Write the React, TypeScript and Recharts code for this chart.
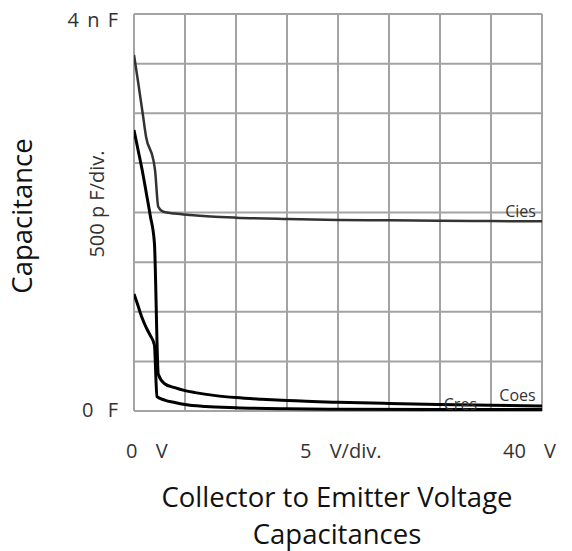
import { LineChart, Line, XAxis, YAxis, CartesianGrid, ReferenceDot } from 'recharts'

// values (V, pF)
const ciesV = [0, 0.42, 0.85, 1.18, 1.9, 2.06, 2.38, 2.87, 4, 5.5, 7.5, 10, 15, 20, 25, 30, 35, 40]
const ciesC = [3587, 3302, 3000, 2764, 2529, 2428, 2058, 2008, 1990, 1975, 1960, 1948, 1934, 1924, 1921, 1917, 1914, 1911]

const coesV = [0, 0.4, 0.8, 1.2, 1.6, 2.0, 2.38, 3, 4, 5, 6, 8, 10, 12.5, 15, 20, 25, 30, 35, 40]
const coesC = [2831, 2630, 2428, 2200, 1965, 1693, 370, 275, 235, 205, 185, 155, 135, 118, 105, 88, 76, 66, 57, 50]

const cresV = [0, 0.3, 0.75, 1.2, 1.57, 2.0, 2.25, 3, 4, 5, 7, 10, 15, 20, 30, 40]
const cresC = [1179, 1090, 950, 840, 766, 665, 144, 110, 85, 65, 45, 32, 22, 18, 15, 15]

const xTicks = [0, 5, 10, 15, 20, 25, 30, 35, 40]
const yTicks = [0, 500, 1000, 1500, 2000, 2500, 3000, 3500, 4000]

const xTickLabels: Record<number, string> = { 0: '0 V', 20: '5 V/div.', 40: '40 V' }
const yTickLabels: Record<number, string> = { 0: '0 F', 4000: '4 n F' }

const toRows = (vs: number[], cs: number[]) => vs.map((v, i) => ({ v, c: cs[i] }))

const cies = toRows(ciesV, ciesC)
const coes = toRows(coesV, coesC)
const cres = toRows(cresV, cresC)

const textColor = '#333'
const font = '"Open Sans", "Noto Sans", sans-serif'

function XTick({ x, y, payload }: any) {
  const label = xTickLabels[payload.value]
  if (!label) return <g />
  const dx = payload.value === 0 ? -8 : payload.value === 40 ? -39 : -38
  return (
    <text x={x + dx} y={y + 45} textAnchor="start" fill={textColor}
      fontSize={20} fontFamily={font} wordSpacing={13}>
      {label}
    </text>
  )
}

function YTick({ x, y, payload }: any) {
  const label = yTickLabels[payload.value]
  if (!label) return <g />
  const zero = payload.value === 0
  return (
    <text x={x - 14} y={y + (zero ? 6 : 13)} textAnchor="end" fill={textColor}
      fontSize={20} fontFamily={font} wordSpacing={zero ? 9 : 3}>
      {label}
    </text>
  )
}

const curveLabel = (value: string) => ({
  value, position: 'center' as const, fill: textColor, fontSize: 16, fontFamily: font,
})

const titleStyle = {
  position: 'absolute' as const, left: 337, transform: 'translate(-50%, -50%)',
  fontSize: 27.5, lineHeight: 1, color: '#111', whiteSpace: 'nowrap' as const,
}

export default function App() {
  return (
    <div style={{ position: 'absolute', left: 0, top: 0, width: 572, height: 551, overflow: 'hidden',
      background: '#fff', fontFamily: font }}>
      <LineChart width={572} height={551} margin={{ top: 14, right: 30, left: 133, bottom: 139 }}>
        <CartesianGrid stroke="#a3a3a3" strokeWidth={2} />
        <XAxis type="number" dataKey="v" domain={[0, 40]} ticks={xTicks} height={1}
          axisLine={false} tickLine={false} tickSize={0} tick={<XTick />} interval={0} allowDataOverflow />
        <YAxis type="number" dataKey="c" domain={[0, 4000]} ticks={yTicks} width={1}
          axisLine={false} tickLine={false} tickSize={0} tick={<YTick />} interval={0} allowDataOverflow />
        <Line data={cies} dataKey="c" type="monotone" stroke="#333" strokeWidth={2.5}
          dot={false} isAnimationActive={false} />
        <Line data={coes} dataKey="c" type="monotone" stroke="#000" strokeWidth={3}
          dot={false} isAnimationActive={false} />
        <Line data={cres} dataKey="c" type="monotone" stroke="#000" strokeWidth={3}
          dot={false} isAnimationActive={false} />
        <ReferenceDot x={37.9} y={2015} r={0} ifOverflow="visible" label={curveLabel('Cies')} />
        <ReferenceDot x={37.6} y={161} r={0} ifOverflow="visible" label={curveLabel('Coes')} />
        <ReferenceDot x={32} y={70} r={0} ifOverflow="visible" label={curveLabel('Cres')} />
      </LineChart>
      <div style={{ position: 'absolute', left: 22, top: 216, transform: 'translate(-50%, -50%) rotate(-90deg)',
        fontSize: 27.5, lineHeight: 1, color: '#111', whiteSpace: 'nowrap' }}>
        Capacitance
      </div>
      <div style={{ position: 'absolute', left: 97, top: 204, transform: 'translate(-50%, -50%) rotate(-90deg)',
        fontSize: 20, lineHeight: 1, color: textColor, whiteSpace: 'nowrap' }}>
        500 p F/div.
      </div>
      <div style={{ ...titleStyle, top: 497 }}>Collector to Emitter Voltage</div>
      <div style={{ ...titleStyle, top: 534 }}>Capacitances</div>
    </div>
  )
}
